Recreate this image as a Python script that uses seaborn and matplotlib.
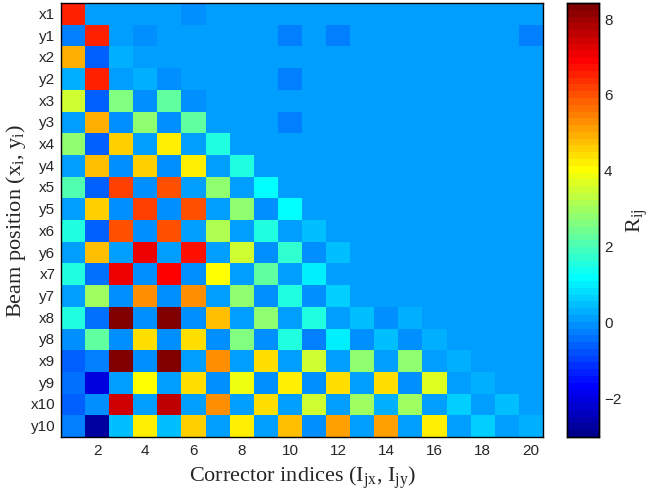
import numpy as np
import pandas as pd
import matplotlib
matplotlib.use("Agg")
import matplotlib.pyplot as plt
from matplotlib.colors import ListedColormap
import seaborn as sns

# ---- data ----
bg = 0.1
row_labels = ["x1", "y1", "x2", "y2", "x3", "y3", "x4", "y4", "x5", "y5",
              "x6", "y6", "x7", "y7", "x8", "y8", "x9", "y9", "x10", "y10"]
col_labels = list(range(1, 21))
xtick_values = [2, 4, 6, 8, 10, 12, 14, 16, 18, 20]
cbar_ticks = [-2, 0, 2, 4, 6, 8]

r_x1 = [6.45, bg, bg, bg, bg, -0.15, bg, bg, bg, bg, bg, bg, bg, bg, bg, bg, bg, bg, bg, bg]
r_y1 = [-0.3, 6.45, bg, -0.15, bg, bg, bg, bg, bg, -0.2, bg, -0.2, bg, bg, bg, bg, bg, bg, bg, -0.2]
r_x2 = [4.9, -0.6, 0.3, bg, bg, bg, bg, bg, bg, bg, bg, bg, bg, bg, bg, bg, bg, bg, bg, bg]
r_y2 = [0.3, 6.45, 0.0, 0.3, -0.15, bg, bg, bg, bg, -0.2, bg, bg, bg, bg, bg, bg, bg, bg, bg, bg]
r_x3 = [3.4, -0.7, 2.6, -0.15, 2.3, -0.15, bg, bg, bg, bg, bg, bg, bg, bg, bg, bg, bg, bg, bg, bg]
r_y3 = [0.0, 4.9, -0.15, 2.75, -0.15, 2.3, bg, bg, bg, -0.2, bg, bg, bg, bg, bg, bg, bg, bg, bg, bg]
r_x4 = [2.75, -0.6, 4.5, 0.1, 4.15, 0.1, 1.5, bg, bg, bg, bg, bg, bg, bg, bg, bg, bg, bg, bg, bg]
r_y4 = [0.0, 4.75, -0.15, 4.5, -0.15, 4.15, 0.1, 1.5, bg, bg, bg, bg, bg, bg, bg, bg, bg, bg, bg, bg]
r_x5 = [2.1, -0.6, 6.2, -0.15, 6.0, 0.1, 2.8, 0.0, 1.15, bg, bg, bg, bg, bg, bg, bg, bg, bg, bg, bg]
r_y5 = [0.0, 4.5, -0.15, 6.2, -0.15, 6.0, 0.1, 2.8, -0.15, 1.15, bg, bg, bg, bg, bg, bg, bg, bg, bg, bg]
r_x6 = [1.5, -0.6, 6.0, -0.15, 6.0, 0.0, 3.1, 0.0, 1.5, 0.0, 0.45, bg, bg, bg, bg, bg, bg, bg, bg, bg]
r_y6 = [0.0, 4.7, 0.1, 7.0, 0.1, 6.75, 0.1, 3.5, -0.15, 1.7, -0.15, 0.45, bg, bg, bg, bg, bg, bg, bg, bg]
r_x7 = [1.5, -0.5, 7.0, -0.15, 6.95, -0.15, 4.0, 0.1, 2.3, 0.0, 1.0, bg, bg, bg, bg, bg, bg, bg, bg, bg]
r_y7 = [0.0, 2.9, -0.15, 5.2, -0.15, 5.2, 0.1, 2.8, -0.15, 1.6, -0.15, 0.7, bg, bg, bg, bg, bg, bg, bg, bg]
r_x8 = [1.6, -0.5, 8.3, -0.15, 8.3, -0.15, 4.7, 0.1, 2.8, 0.0, 1.6, 0.0, 0.45, -0.15, 0.25, bg, bg, bg, bg, bg]
r_y8 = [-0.15, 2.3, -0.15, 4.45, -0.15, 4.45, -0.15, 2.5, -0.15, 1.6, -0.35, 1.0, -0.15, 0.45, -0.15, 0.2, bg, bg, bg, bg]
r_x9 = [-0.6, -0.25, 8.25, -0.15, 8.3, 0.1, 5.35, 0.0, 4.35, 0.0, 3.5, 0.0, 2.8, 0.0, 2.8, 0.0, 0.25, bg, bg, bg]
r_y9 = [-0.5, -2.1, 0.1, 4.0, 0.1, 4.3, -0.15, 3.8, -0.15, 4.2, -0.15, 4.45, 0.1, 4.45, -0.15, 3.65, 0.1, 0.25, bg, bg]
r_x10 = [-0.7, -0.15, 7.5, 0.1, 7.65, 0.1, 5.2, 0.1, 4.3, 0.1, 3.4, 0.1, 2.9, 0.25, 2.9, 0.0, 0.7, 0.0, 0.4, 0.05]
r_y10 = [-0.25, -2.85, 0.4, 4.2, 0.4, 4.55, 0.1, 4.2, 0.1, 4.75, -0.15, 5.1, 0.0, 5.1, 0.0, 4.15, 0.0, 0.7, 0.0, 0.3]

rows = [r_x1, r_y1, r_x2, r_y2, r_x3, r_y3, r_x4, r_y4, r_x5, r_y5,
        r_x6, r_y6, r_x7, r_y7, r_x8, r_y8, r_x9, r_y9, r_x10, r_y10]
df = pd.DataFrame(rows, index=row_labels, columns=col_labels)

vmin, vmax = -3.05, 8.4


def matlab_jet(m=64):
    n = int(np.ceil(m / 4))
    u = np.concatenate([np.arange(1, n + 1) / n, np.ones(n - 1),
                        np.arange(n, 0, -1) / n])
    g0 = int(np.ceil(n / 2)) - (1 if m % 4 == 1 else 0) + np.arange(1, len(u) + 1)
    r0 = g0 + n
    b0 = g0 - n
    J = np.zeros((m, 3))
    for col, idx in ((0, r0), (1, g0), (2, b0)):
        ok = (idx >= 1) & (idx <= m)
        J[idx[ok] - 1, col] = u[ok]
    return ListedColormap(J)


# ---- style ----
sns.set_style("white")
plt.rcParams["font.family"] = ["Liberation Sans", "DejaVu Sans"]
plt.rcParams["mathtext.fontset"] = "custom"
plt.rcParams["mathtext.rm"] = "Liberation Serif"
plt.rcParams["mathtext.it"] = "Liberation Serif:italic"

W, H = 654, 502
fig = plt.figure(figsize=(W / 100, H / 100), dpi=100)
ax = fig.add_axes([61 / W, 1 - 438 / H, (543 - 61) / W, (438 - 4) / H])
cax = fig.add_axes([567 / W, 1 - 438 / H, 31.5 / W, (438 - 4) / H])

cmap = matlab_jet(64)
sns.heatmap(df, ax=ax, cbar_ax=cax, cmap=cmap, vmin=vmin, vmax=vmax,
            linewidths=0, xticklabels=False, yticklabels=True)

xpos = [col_labels.index(v) + 0.5 for v in xtick_values]
ax.set_xticks(xpos)
ax.set_xticklabels([str(v) for v in xtick_values], rotation=0)
ax.set_yticks(np.arange(len(row_labels)) + 0.5)
ax.set_yticklabels(row_labels, rotation=0)

ax.tick_params(axis="both", direction="in", length=4, width=0.8, color="black",
               labelsize=11, top=True, right=True, bottom=True, left=True,
               pad=4)
for sp in ax.spines.values():
    sp.set_visible(True)
    sp.set_color("black")
    sp.set_linewidth(1.0)

serif = "Liberation Serif"
ax.set_xlabel(r"Corrector indices (I$_{\rm jx}$, I$_{\rm jy}$)", fontsize=16,
              family=serif, labelpad=5)
ax.set_ylabel(r"Beam position (x$_{\rm i}$, y$_{\rm i}$)", fontsize=16,
              family=serif, labelpad=2)

cax.set_yticks(cbar_ticks)
cax.tick_params(axis="y", direction="in", length=4, width=0.8, left=True,
                right=True, labelsize=11, pad=4)
for sp in cax.spines.values():
    sp.set_visible(True)
    sp.set_color("black")
    sp.set_linewidth(1.0)
cax.set_ylabel(r"R$_{\rm ij}$", fontsize=16, family=serif, rotation=90,
               labelpad=2)

fig.savefig("out.png", dpi=100)
